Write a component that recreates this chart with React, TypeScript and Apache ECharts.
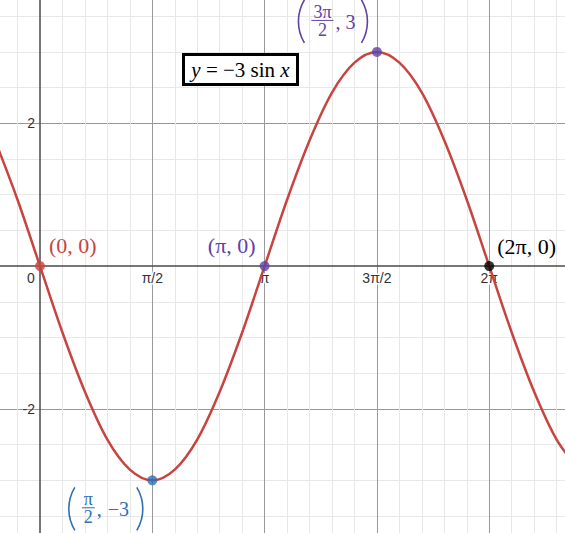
import { useEffect, useRef } from 'react';
import * as echarts from 'echarts';

const W = 565;
const H = 533;

// visible window (x in radians, equal scale on both axes)
const X_MIN = -0.5594;
const X_MAX = 7.3427;
const Y_MIN = -3.738;
const Y_MAX = 3.727;

// curve: x in multiples of π, y values
const curveXPi = [
  -0.2, -0.1, 0, 0.1, 0.2, 0.3, 0.4, 0.5, 0.6, 0.7, 0.8, 0.9, 1, 1.1, 1.2,
  1.3, 1.4, 1.5, 1.6, 1.7, 1.8, 1.9, 2, 2.1, 2.2, 2.3, 2.4,
];
const curveY = [
  1.76, 0.93, 0, -0.93, -1.76, -2.43, -2.85, -3, -2.85, -2.43, -1.76, -0.93, 0,
  0.93, 1.76, 2.43, 2.85, 3, 2.85, 2.43, 1.76, 0.93, 0, -0.93, -1.76, -2.43, -2.85,
];

// marked points
const pointXPi = [0, 0.5, 1, 1.5, 2];
const pointY = [0, -3, 0, 3, 0];
const pointColors = ['#c74440', '#2d70b3', '#6042a6', '#6042a6', '#000000'];

// tick labels
const xTickPi = [0, 0.5, 1, 1.5, 2];
const xTickLabels = ['0', 'π/2', 'π', '3π/2', '2π'];
const yTicks = [-2, 2];
const yTickLabels = ['-2', '2'];

const SERIF = '"Liberation Serif", "DejaVu Serif", serif';
const SANS = '"Liberation Sans", Arial, sans-serif';

// gridline values
const xMajor = xTickPi.filter((p) => p !== 0).map((p) => p * Math.PI);
const xMinor: number[] = [];
for (let k = -5; k <= 25; k++) {
  const v = (k * Math.PI) / 10;
  if (k % 5 !== 0 && v > X_MIN && v < X_MAX) xMinor.push(v);
}
const yMinor: number[] = [];
for (let k = -7; k <= 7; k++) {
  const v = k * 0.5;
  if (v % 2 !== 0) yMinor.push(v);
}

// where the axes cross, in pixels from the grid's left / bottom edge
const ZERO_X = (W * (0 - X_MIN)) / (X_MAX - X_MIN);
const ZERO_Y = (H * (0 - Y_MIN)) / (Y_MAX - Y_MIN);

const simpleLabels = [
  { point: 0, text: '(0, 0)', dx: 9, dy: -21, align: 'left' },
  { point: 2, text: '(π, 0)', dx: -9, dy: -21, align: 'right' },
  { point: 4, text: '(2π, 0)', dx: 8, dy: -19.5, align: 'left' },
];

const fractionLabels = [
  { point: 3, num: '3π', den: '2', value: '3', fw: 22, commaX: 38, valX: 48, rightX: 70, dx: -79.5, dy: -52 },
  { point: 1, num: 'π', den: '2', value: '−3', fw: 13, commaX: 29, valX: 40, rightX: 75, dx: -84.5, dy: 7 },
];

function paren(xEdge: number, left: boolean, color: string) {
  const h = 43;
  const s = 6;
  const r = (h * h) / 4 / (2 * s) + s / 2;
  const th = Math.asin(h / 2 / r);
  return {
    type: 'arc',
    shape: left
      ? { cx: xEdge + r, cy: h / 2, r, startAngle: Math.PI - th, endAngle: Math.PI + th }
      : { cx: xEdge - r, cy: h / 2, r, startAngle: -th, endAngle: th },
    style: { stroke: color, lineWidth: 1.6, fill: null },
  };
}

function txt(text: string, x: number, y: number, color: string, size: number, align = 'left', lineHeight?: number) {
  return {
    type: 'text',
    x,
    y,
    style: {
      text,
      fill: color,
      fontSize: size,
      fontFamily: SERIF,
      lineHeight,
      align,
      textAlign: align,
      verticalAlign: 'middle',
      textVerticalAlign: 'middle',
    },
  };
}

function buildGraphic(chart: echarts.ECharts) {
  const px = (i: number) =>
    chart.convertToPixel({ seriesIndex: 1 }, [pointXPi[i] * Math.PI, pointY[i]]) as number[];
  const els: any[] = [];

  simpleLabels.forEach((l) => {
    const [x, y] = px(l.point);
    els.push({ ...txt(l.text, x + l.dx, y + l.dy, pointColors[l.point], 22, l.align), z: 10 });
  });

  fractionLabels.forEach((f) => {
    const [x, y] = px(f.point);
    const c = pointColors[f.point];
    const mid = 14 + f.fw / 2;
    els.push({
      type: 'group',
      x: x + f.dx,
      y: y + f.dy,
      z: 10,
      children: [
        paren(1, true, c),
        txt(f.num, mid, 12, c, 18, 'center', 14),
        {
          type: 'line',
          shape: { x1: 14, y1: 20.5, x2: 14 + f.fw, y2: 20.5 },
          style: { stroke: c, lineWidth: 1 },
        },
        txt(f.den, mid, 30, c, 18, 'center', 14),
        txt(',', f.commaX, 22, c, 20),
        txt(f.value, f.valX, 22, c, 20),
        paren(f.rightX, false, c),
      ],
    });
  });

  // equation box
  els.push({
    type: 'rect',
    shape: { x: 183.5, y: 54.5, width: 114, height: 30 },
    style: { fill: '#fff', stroke: '#000', lineWidth: 3 },
    z: 10,
  });
  els.push({
    type: 'text',
    x: 240.5,
    y: 70,
    z: 11,
    style: {
      text: '{i|y} = −3 sin {i|x}',
      fill: '#000',
      fontSize: 21,
      fontFamily: SERIF,
      align: 'center',
      textAlign: 'center',
      verticalAlign: 'middle',
      textVerticalAlign: 'middle',
      rich: {
        i: { fontStyle: 'italic', fontSize: 21, fontFamily: SERIF, fill: '#000' },
      },
    },
  });
  return els;
}

const option: any = {
  animation: false,
  backgroundColor: '#fff',
  grid: { left: 0, right: 0, top: 0, bottom: 0, containLabel: false, outerBoundsMode: 'none' },
  xAxis: [
    {
      type: 'value',
      min: X_MIN,
      max: X_MAX,
      position: 'bottom',
      axisLine: { show: false, onZero: false },
      axisTick: { show: false, customValues: xMinor },
      axisLabel: { show: false },
      splitLine: { show: true, lineStyle: { color: '#e8e8e8', width: 1 } },
    },
    {
      type: 'value',
      min: X_MIN,
      max: X_MAX,
      position: 'bottom',
      offset: -ZERO_Y,
      axisLine: { show: true, onZero: false, lineStyle: { color: '#4a4a4a', width: 1.5 } },
      axisTick: { show: false, customValues: xMajor },
      axisLabel: {
        customValues: xTickPi.map((p) => p * Math.PI),
        margin: 5,
        color: '#333',
        fontSize: 14,
        fontFamily: SANS,
        textBorderColor: '#fff',
        textBorderWidth: 3,
        formatter: (v: number) => {
          const i = xTickPi.findIndex((p) => Math.abs(p * Math.PI - v) < 1e-6);
          if (i === 0) return '{o|' + xTickLabels[0] + '}';
          return i >= 0 ? xTickLabels[i] : '';
        },
        rich: {
          o: { padding: [0, 18, 0, 0], color: '#333', fontSize: 14, fontFamily: SANS },
        },
      },
      splitLine: { show: true, lineStyle: { color: '#999', width: 1 } },
    },
  ],
  yAxis: [
    {
      type: 'value',
      min: Y_MIN,
      max: Y_MAX,
      position: 'left',
      axisLine: { show: false, onZero: false },
      axisTick: { show: false, customValues: yMinor },
      axisLabel: { show: false },
      splitLine: { show: true, lineStyle: { color: '#e8e8e8', width: 1 } },
    },
    {
      type: 'value',
      min: Y_MIN,
      max: Y_MAX,
      position: 'left',
      offset: -ZERO_X,
      axisLine: { show: true, onZero: false, lineStyle: { color: '#4a4a4a', width: 1.5 } },
      axisTick: { show: false, customValues: yTicks },
      axisLabel: {
        customValues: yTicks,
        margin: 5,
        color: '#333',
        fontSize: 14,
        fontFamily: SANS,
        formatter: (v: number) => {
          const i = yTicks.indexOf(v);
          return i >= 0 ? yTickLabels[i] : '';
        },
      },
      splitLine: { show: true, lineStyle: { color: '#999', width: 1 } },
    },
  ],
  series: [
    {
      type: 'line',
      xAxisIndex: 1,
      yAxisIndex: 1,
      data: curveXPi.map((p, i) => [p * Math.PI, curveY[i]]),
      smooth: 0.33,
      showSymbol: false,
      silent: true,
      lineStyle: { color: '#c74440', width: 2.5 },
      z: 3,
    },
    {
      type: 'scatter',
      xAxisIndex: 1,
      yAxisIndex: 1,
      data: pointXPi.map((p, i) => ({
        value: [p * Math.PI, pointY[i]],
        itemStyle: { color: pointColors[i] },
      })),
      symbolSize: 10,
      z: 4,
    },
  ],
};

export default function App() {
  const ref = useRef<HTMLDivElement>(null);

  useEffect(() => {
    if (!ref.current) return;
    const chart = echarts.init(ref.current, undefined, { renderer: 'svg' });
    chart.setOption(option);
    chart.setOption({ graphic: buildGraphic(chart) });
    return () => {
      chart.dispose();
    };
  }, []);

  return (
    <div
      ref={ref}
      style={{ position: 'fixed', left: 0, top: 0, width: W, height: H, background: '#fff' }}
    />
  );
}
